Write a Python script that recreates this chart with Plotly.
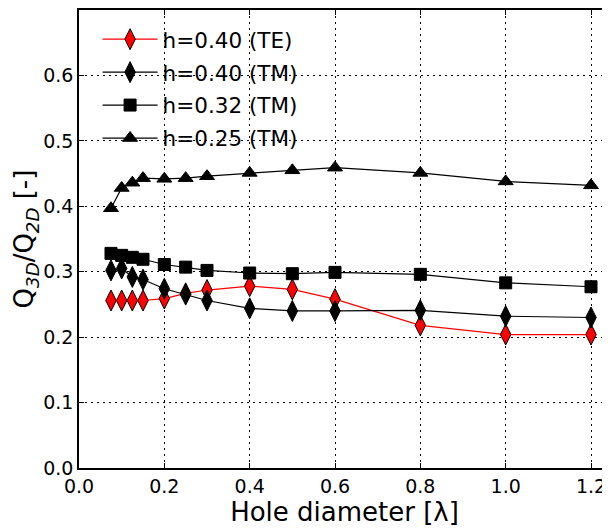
import plotly.graph_objects as go

hole_diameter = [0.075, 0.1, 0.125, 0.15, 0.2, 0.25, 0.3, 0.4, 0.5, 0.6, 0.8, 1.0, 1.2]
te_h040 = [0.256, 0.256, 0.256, 0.256, 0.259, 0.267, 0.272, 0.278, 0.273, 0.258, 0.218, 0.204, 0.204]
tm_h040 = [0.302, 0.305, 0.292, 0.288, 0.274, 0.265, 0.256, 0.244, 0.240, 0.240, 0.241, 0.232, 0.230]
tm_h032 = [0.328, 0.325, 0.322, 0.319, 0.311, 0.307, 0.302, 0.298, 0.297, 0.299, 0.296, 0.283, 0.277]
tm_h025 = [0.397, 0.428, 0.436, 0.443, 0.442, 0.443, 0.446, 0.451, 0.455, 0.459, 0.451, 0.438, 0.432]

y_ticks = [0.0, 0.1, 0.2, 0.3, 0.4, 0.5, 0.6, 0.7]
x_ticks = [0.0, 0.2, 0.4, 0.6, 0.8, 1.0, 1.2]

fig = go.Figure()
series = [
    ("h=0.40 (TE)", te_h040, "red", "diamond-tall", 15),
    ("h=0.40 (TM)", tm_h040, "black", "diamond-tall", 15),
    ("h=0.32 (TM)", tm_h032, "black", "square", 12),
    ("h=0.25 (TM)", tm_h025, "black", "triangle-up", 13),
]
for i, (name, ys, col, sym, sz) in enumerate(series):
    fig.add_trace(go.Scatter(
        x=hole_diameter, y=ys, mode="lines+markers", name=name,
        legendgroup=f"g{i}",
        line=dict(color=col, width=1.2),
        marker=dict(symbol=sym, size=sz, color=col, line=dict(color="black", width=1)),
    ))

axis_common = dict(
    showline=True, linecolor="black", linewidth=1.5,
    ticks="inside", ticklen=5, tickcolor="black",
    showgrid=True, gridcolor="black", griddash="2px,4px", gridwidth=1,
    zeroline=False, automargin=False,
    tickfont=dict(family="DejaVu Sans", size=19, color="black"),
)

fig.update_layout(
    width=602, height=521,
    margin=dict(l=71, r=0, t=2, b=61),
    paper_bgcolor="white", plot_bgcolor="white",
    font=dict(family="DejaVu Sans", color="black"),
    xaxis=dict(
        range=[0, 1.2445], tickvals=x_ticks, ticktext=[f"{v:.1f}" for v in x_ticks],
        mirror="ticks",
        title=dict(text="Hole diameter [λ]", font=dict(size=26), standoff=2),
        **axis_common,
    ),
    yaxis=dict(
        range=[0, 0.7], tickvals=y_ticks, ticktext=[f"{v:.1f}" for v in y_ticks],
        mirror="ticks",
        title=dict(text="Q<sub><i>3D</i></sub>/Q<sub><i>2D</i></sub> [-]", font=dict(size=26), standoff=2),
        **axis_common,
    ),
    legend=dict(
        x=0.035, y=0.981, xanchor="left", yanchor="top",
        bgcolor="rgba(0,0,0,0)", borderwidth=0,
        font=dict(family="DejaVu Sans", size=21.5, color="black"),
        itemwidth=55, tracegroupgap=2,
    ),
)

fig.write_html("out.html")
